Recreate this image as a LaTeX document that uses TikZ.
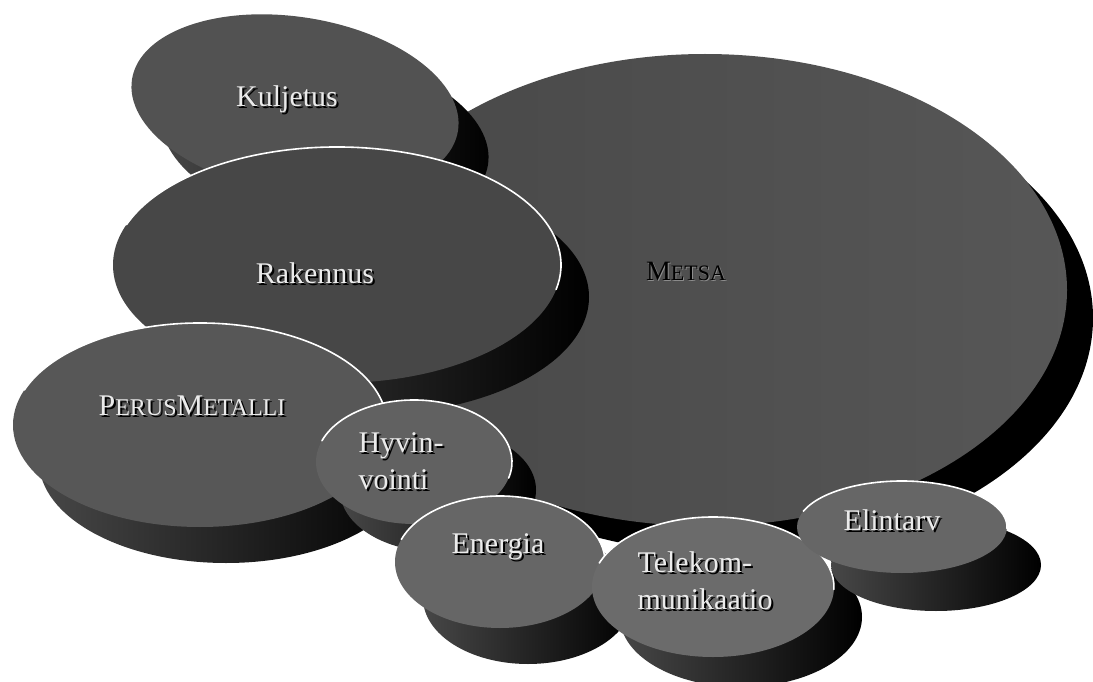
\documentclass[tikz,border=0pt]{standalone}
\usepackage{fontspec}
\setmainfont{Liberation Serif}
\newcommand\smc[2]{{\fontsize{#1}{#1}\selectfont #2}}
\newcommand\myblob[9]{% cx cy rx ry fill dx dy rimend rotation
  \shade[shad, shift={(#6,#7)}, rotate around={#9:(#1,#2)}] (#1,#2) ellipse[x radius=#3, y radius=#4];
  \fill[#5, rotate around={#9:(#1,#2)}] (#1,#2) ellipse[x radius=#3, y radius=#4];
  \draw[rim, rotate around={#9:(#1,#2)}] (#1,#2) ++(200:#3 and #4) arc[start angle=200, end angle=#8, x radius=#3, y radius=#4];
}
\tikzset{
  shad/.style={left color=black!72, right color=black},
  rim/.style={draw=white, line width=1.6pt, line cap=round},
  lbl/.style={text=black!8, font=\fontsize{30}{37}\selectfont, align=left, inner sep=0pt},
  lblsh/.style={lbl, text=black},
}
\begin{document}
\begin{tikzpicture}[x=1pt,y=-1pt]
\useasboundingbox (0,0) rectangle (1093,682);
% Metsa (back)
\fill[black] (705+26,290+28) ellipse[x radius=362, y radius=236];
\shade[left color=black!72, middle color=black!55, right color=black!66] (705,290) ellipse[x radius=362, y radius=236];
% Kuljetus
\shade[shad, shift={(30,34)}, rotate around={-9:(295,105)}] (295,105) ellipse[x radius=165, y radius=88];
\fill[black!68, rotate around={-9:(295,105)}] (295,105) ellipse[x radius=165, y radius=88];
% Rakennus
\myblob{337}{265}{224}{118}{black!72}{28}{32}{372}{0}
% Perusmetalli
\myblob{200}{425}{187}{102}{black!66}{26}{36}{362}{0}
% Hyvinvointi
\myblob{414}{462}{98}{62}{black!62}{24}{28}{375}{0}
% Energia
\myblob{500}{562}{105}{66}{black!60}{28}{36}{362}{0}
% Telekommunikaatio
\myblob{713}{587}{121}{70}{black!58}{28}{30}{362}{0}
% Elintarv
\myblob{902}{527}{105}{46}{black!60}{34}{38}{362}{0}

% labels
\node[lblsh, anchor=base] (kulj-s) at (289,109) {Kuljetus};
\node[lbl, anchor=base] (kulj) at (287,107) {Kuljetus};
\node[lblsh, anchor=base] (rak-s) at (317,285) {Rakennus};
\node[lbl, anchor=base] (rak) at (315,283) {Rakennus};
\node[lbl, text=black!45, anchor=base, font=\fontsize{28}{34}\selectfont] (mets-s) at (687,281) {M\smc{22}{ETSA}};
\node[lblsh, anchor=base, font=\fontsize{28}{34}\selectfont] (mets) at (686,280) {M\smc{22}{ETSA}};
\node[lblsh, anchor=base] (perus-s) at (194,417) {P\smc{24}{ERUS}M\smc{24}{ETALLI}};
\node[lbl, anchor=base] (perus) at (192,415) {P\smc{24}{ERUS}M\smc{24}{ETALLI}};
\node[lblsh] (hyv-s) at (403,463) {Hyvin-\\vointi};
\node[lbl] (hyv) at (401,461) {Hyvin-\\vointi};
\node[lblsh, anchor=base] (ener-s) at (500,555) {Energia};
\node[lbl, anchor=base] (ener) at (498,553) {Energia};
\node[lblsh] (tele-s) at (707,583) {Telekom-\\munikaatio};
\node[lbl] (tele) at (705,581) {Telekom-\\munikaatio};
\node[lblsh, anchor=base] (elin-s) at (894,532) {Elintarv};
\node[lbl, anchor=base] (elin) at (892,530) {Elintarv};
\end{tikzpicture}
\end{document}
